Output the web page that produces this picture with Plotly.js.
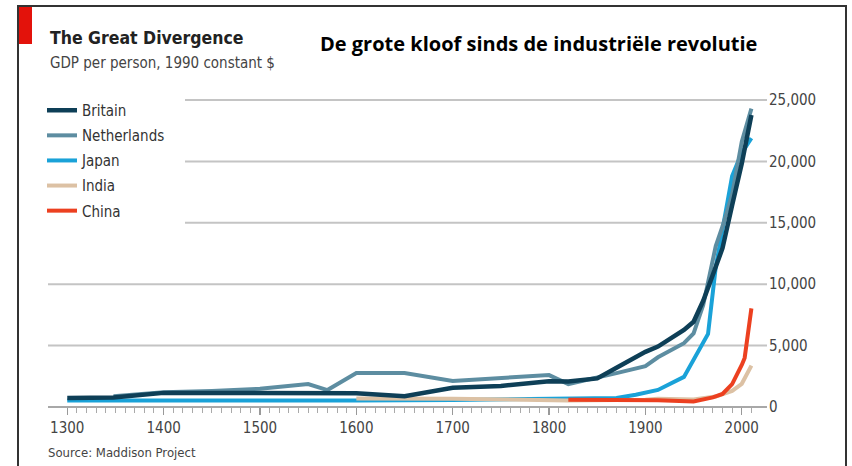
<!DOCTYPE html>
<html>
<head>
<meta charset="utf-8">
<script src="https://cdn.plot.ly/plotly-3.0.1.min.js"></script>
<style>html,body{margin:0;padding:0;background:#fff;}#chart{width:852px;height:466px;}</style>
</head>
<body>
<div id="chart"></div>
<script>
// ---- data (GDP per person, 1990 constant $) ----
const britainYears = [1300,1348,1400,1450,1500,1550,1600,1650,1700,1750,1800,1820,1850,1870,1900,1913,1940,1950,1960,1970,1980,1990,2000,2010];
const britainGdp   = [740,780,1150,1120,1110,1100,1120,880,1560,1710,2100,2070,2330,3190,4490,4920,6270,6940,8650,10770,12930,16430,19820,23780];

const netherlandsYears = [1348,1400,1450,1500,1550,1570,1600,1650,1700,1750,1800,1820,1850,1870,1900,1913,1940,1950,1960,1973,1980,1990,2000,2010];
const netherlandsGdp   = [880,1200,1300,1480,1870,1380,2770,2770,2120,2350,2600,1870,2370,2760,3330,4050,5200,6000,8300,13100,14700,17300,21600,24300];

const japanYears = [1300,1400,1500,1600,1700,1820,1850,1870,1890,1900,1913,1940,1965,1973,1990,2000,2010];
const japanGdp   = [530,520,500,520,570,670,680,740,1000,1180,1390,2450,5950,11400,18800,20700,21900];

const indiaYears = [1600,1700,1820,1870,1900,1913,1950,1973,1990,2000,2010];
const indiaGdp   = [700,680,530,530,600,670,620,850,1310,1890,3370];

const chinaYears = [1820,1850,1870,1900,1913,1950,1970,1980,1990,2000,2003,2010];
const chinaGdp   = [600,600,530,545,550,450,780,1060,1870,3420,4000,8030];

const xTickVals  = [1300,1400,1500,1600,1700,1800,1900,2000];
const xTickText  = ["1300","1400","1500","1600","1700","1800","1900","2000"];
const yTickVals  = [0,5000,10000,15000,20000,25000];
const yTickText  = ["0","5,000","10,000","15,000","20,000","25,000"];

// ---- layout geometry ----
const W = 852, H = 466;
const M = {l:48, r:90, t:100, b:59};
const plotW = W - M.l - M.r, plotH = H - M.t - M.b;
const yMax = 25000;
const px = x => (x - M.l) / plotW;      // pixel -> paper x
const py = y => (H - M.b - y) / plotH;   // pixel -> paper y

const FONT = '"DejaVu Sans Condensed", "DejaVu Sans", sans-serif';

const colors = {
  Britain: '#0e3f57',
  Netherlands: '#5d8da1',
  Japan: '#1aa2d8',
  India: '#dcc1a4',
  China: '#ec4020'
};

function tr(name, xs, ys, rank, width) {
  return {
    type: 'scatter', mode: 'lines', name: name, x: xs, y: ys,
    line: {color: colors[name], width: width},
    legendrank: rank, legendgroup: name,
    hoverinfo: 'x+y+name'
  };
}

const data = [
  tr('Japan', japanYears, japanGdp, 3, 4),
  tr('India', indiaYears, indiaGdp, 4, 4),
  tr('China', chinaYears, chinaGdp, 5, 4),
  tr('Netherlands', netherlandsYears, netherlandsGdp, 2, 4),
  tr('Britain', britainYears, britainGdp, 1, 4.5)
];

const minorTicks = [];
for (let y = 1300; y <= 2010; y += 10) minorTicks.push(y);

const shapes = [];
// gridlines
yTickVals.forEach(v => {
  shapes.push({
    type: 'line', xref: 'paper', yref: 'paper', layer: 'below',
    x0: v >= 15000 ? px(185) : 0, x1: px(767),
    y0: v / yMax, y1: v / yMax,
    line: {color: v === 0 ? '#a8a8a8' : '#c4c4c4', width: 2}
  });
});
// red tag
shapes.push({type:'rect', xref:'paper', yref:'paper', x0:px(19), x1:px(32), y0:py(44), y1:py(7),
  fillcolor:'#e3120b', line:{width:0}, layer:'above'});
// frame
shapes.push({type:'rect', xref:'paper', yref:'paper', x0:px(18), x1:px(846), y0:py(490), y1:py(6),
  fillcolor:'rgba(0,0,0,0)', line:{color:'#333', width:2}, layer:'above'});

const layout = {
  width: W, height: H,
  margin: M,
  paper_bgcolor: '#fff', plot_bgcolor: '#fff',
  showlegend: true,
  legend: {
    x: px(42), y: py(94), xanchor: 'left', yanchor: 'top',
    font: {family: FONT, size: 15, color: '#333'},
    bgcolor: 'rgba(0,0,0,0)', tracegroupgap: 2.6, itemwidth: 30
  },
  xaxis: {
    range: [1280, 2021], showgrid: false, zeroline: false, showline: false,
    tickmode: 'array', tickvals: xTickVals, ticktext: xTickText,
    ticks: 'outside', ticklen: 7, tickwidth: 1.2, tickcolor: '#999',
    tickfont: {family: FONT, size: 15, color: '#444'},
    minor: {tickmode: 'array', tickvals: minorTicks, ticks: 'outside', ticklen: 5, tickwidth: 1, tickcolor: '#aaa'},
    fixedrange: true
  },
  yaxis: {
    range: [0, yMax], side: 'right', showgrid: false, zeroline: false, showline: false,
    tickmode: 'array', tickvals: yTickVals, ticktext: yTickText,
    ticks: '', ticklabelstandoff: 6,
    tickfont: {family: FONT, size: 15, color: '#444'},
    fixedrange: true
  },
  shapes: shapes,
  annotations: [
    {text: '<b>The Great Divergence</b>', xref:'paper', yref:'paper', x: px(48), y: py(38),
     xanchor:'left', yanchor:'middle', showarrow:false, font:{family: FONT, size: 17.5, color:'#222'}},
    {text: 'GDP per person, 1990 constant &#36;', xref:'paper', yref:'paper', x: px(48), y: py(63),
     xanchor:'left', yanchor:'middle', showarrow:false, font:{family: FONT, size: 15, color:'#444'}},
    {text: '<b>De grote kloof sinds de industriële revolutie</b>', xref:'paper', yref:'paper', x: px(538), y: py(44),
     xanchor:'center', yanchor:'middle', showarrow:false, font:{family: '"Open Sans", Lato, sans-serif', size: 20, color:'#000'}},
    {text: 'Source: Maddison Project', xref:'paper', yref:'paper', x: px(46), y: py(452),
     xanchor:'left', yanchor:'middle', showarrow:false, font:{family: FONT, size: 13, color:'#444'}}
  ]
};

Plotly.newPlot('chart', data, layout, {displayModeBar: false, staticPlot: true});
</script>
</body>
</html>
